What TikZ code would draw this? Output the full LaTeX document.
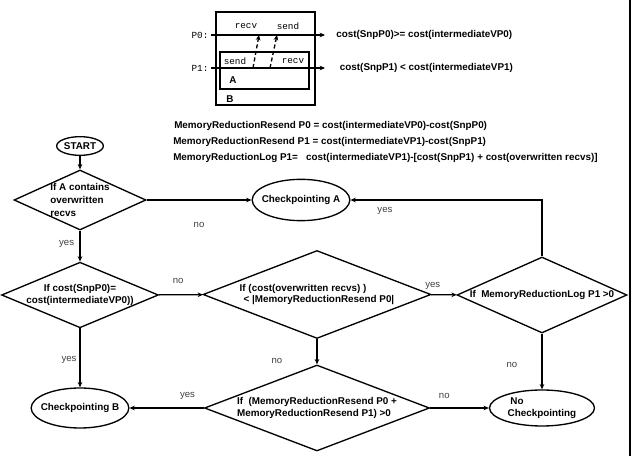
\documentclass[tikz,border=0pt]{standalone}
\usepackage{fontspec}
\setmainfont{Liberation Sans}
\setmonofont{Liberation Mono}
\usepackage{tikz}
\usetikzlibrary{positioning, arrows.meta, shapes.geometric}

\begin{document}
\begin{tikzpicture}[x=0.75pt, y=-0.75pt,
        every node/.style={inner sep=0pt},
        boldtxt/.style={font=\bfseries\fontsize{7.4}{8.6}\selectfont},
        decision/.style={diamond, draw, line width=1pt, boldtxt, align=center},
        terminal/.style={ellipse, draw, line width=1pt, boldtxt, inner xsep=-3.5pt, align=left},
        flow/.style={-{Stealth[length=4pt, width=3.5pt]}, line width=1pt},
        msg/.style={flow, dash pattern=on 3pt off 2pt},
        lbl/.style={font=\fontsize{7.2}{8}\selectfont, text=black!75},
        mono/.style={font=\ttfamily\fontsize{7}{8}\selectfont}
    ]
    \useasboundingbox (0,0) rectangle (637,456);

    % Checkpoint regions
    \draw[line width=1pt] (216,12) rectangle (315,105);
    \draw[line width=1pt] (220,52) rectangle (309,89);
    \node[boldtxt] (regA) at (233,80) {A};
    \node[boldtxt] (regB) at (230,99) {B};

    % Processes
    \node[mono] (p0) at (200,35) {P0:};
    \node[mono] (p1) at (200,68) {P1:};
    \coordinate (p0end) at (325,35);
    \coordinate (p1end) at (325,68);
    \draw[flow] ([xshift=2pt]p0.east) -- (p0end);
    \draw[flow] ([xshift=2pt]p1.east) -- (p1end);
    \node[mono] (recv0) at (246,26) {recv};
    \node[mono] (send0) at (288,26) {send};
    \node[mono] (send1) at (235,61) {send};
    \node[mono] (recv1) at (293,61) {recv};

    % Messages
    \coordinate (m1s) at (253,68);
    \coordinate (m1r) at (259,35);
    \coordinate (m2s) at (270,68);
    \coordinate (m2r) at (277,35);
    \draw[msg] (m1s) -- (m1r);
    \draw[msg] (m2s) -- (m2r);

    % Costs
    \node[boldtxt, right=8.25pt of p0end] (cost0) {cost(SnpP0)>= cost(intermediateVP0)};
    \node[boldtxt, right=11pt of p1end] (cost1) {cost(SnpP1) < cost(intermediateVP1)};

    % Memory reduction
    \node[boldtxt, anchor=west] (mrr0) at (174,126) {MemoryReductionResend P0 = cost(intermediateVP0)-cost(SnpP0)};
    \node[boldtxt, anchor=west] (mrr1) at (173,142) {MemoryReductionResend P1 = cost(intermediateVP1)-cost(SnpP1)};
    \node[boldtxt, anchor=west] (mrl1) at (173,158) {MemoryReductionLog P1=~~~cost(intermediateVP1)-[cost(SnpP1) + cost(overwritten recvs)]};

    % Flowchart
    \node[terminal, inner xsep=0pt, minimum width=35pt, minimum height=14pt] (start) at (80,146) {START};
    \node[decision, align=left, aspect=2.2, minimum width=99pt, minimum height=45pt,
          font=\bfseries\fontsize{7.4}{9.6}\selectfont] (contains) at (80,200) {If A contains\\overwritten\\recvs};
    \node[terminal, minimum width=72.75pt, minimum height=31pt] (ckptA) at (301,200) {Checkpointing A};
    \node[decision, aspect=2.39, minimum width=114.75pt, minimum height=48pt] (costeq) at (80,295) {If cost(SnpP0)=\\cost(intermediateVP0))};
    \node[decision, align=left, aspect=2.59, minimum width=171pt, minimum height=66pt] (overw) at (317,294.5) {If (cost(overwritten recvs) )\\\hspace*{3pt}< |MemoryReductionResend P0|};
    \node[decision, aspect=2.24, minimum width=127.5pt, minimum height=57pt] (logred) at (542,295) {If~~MemoryReductionLog P1 >0};
    \node[terminal, minimum width=71.25pt, minimum height=30pt] (ckptB) at (80,408) {Checkpointing B};
    \node[decision, align=left, aspect=2.62, minimum width=168.75pt, minimum height=64.5pt] (resend) at (317,408) {If~~(MemoryReductionResend P0 +\\MemoryReductionResend P1) >0};
    \node[terminal, minimum width=78.75pt, minimum height=27pt] (nockpt) at (542,408) {\hspace*{2pt}No\\Checkpointing};

    % Arrows
    \draw[flow] (start) -- (contains);
    \draw[flow] (contains) -- node[lbl, yshift=-18.75pt] {no} (ckptA);
    \draw[flow] (contains) -- node[lbl, xshift=-10pt, yshift=2pt] {yes} (costeq);
    \draw[flow] (costeq) -- node[lbl, pos=.44, yshift=10.5pt] {no} (overw);
    \draw[flow] (overw) -- node[lbl, pos=.07, yshift=6.75pt] {yes} (logred);
    \draw[flow] (logred) |- node[lbl, pos=.91, yshift=-8.25pt] {yes} (ckptA);
    \draw[flow] (costeq) -- node[lbl, pos=.54, xshift=-8.25pt] {yes} (ckptB);
    \draw[flow] (overw) -- node[lbl, pos=.86, xshift=-30pt] {no} (resend);
    \draw[flow] (logred) -- node[lbl, pos=.57, xshift=-22.5pt] {no} (nockpt);
    \draw[flow] (resend) -- node[lbl, pos=.22, yshift=9pt] {yes} (ckptB);
    \draw[flow] (resend) -- node[lbl, pos=.24, yshift=9pt] {no} (nockpt);

    % Page edge
    \draw[line width=1pt] (630,0) -- (630,456);
\end{tikzpicture}
\end{document}
